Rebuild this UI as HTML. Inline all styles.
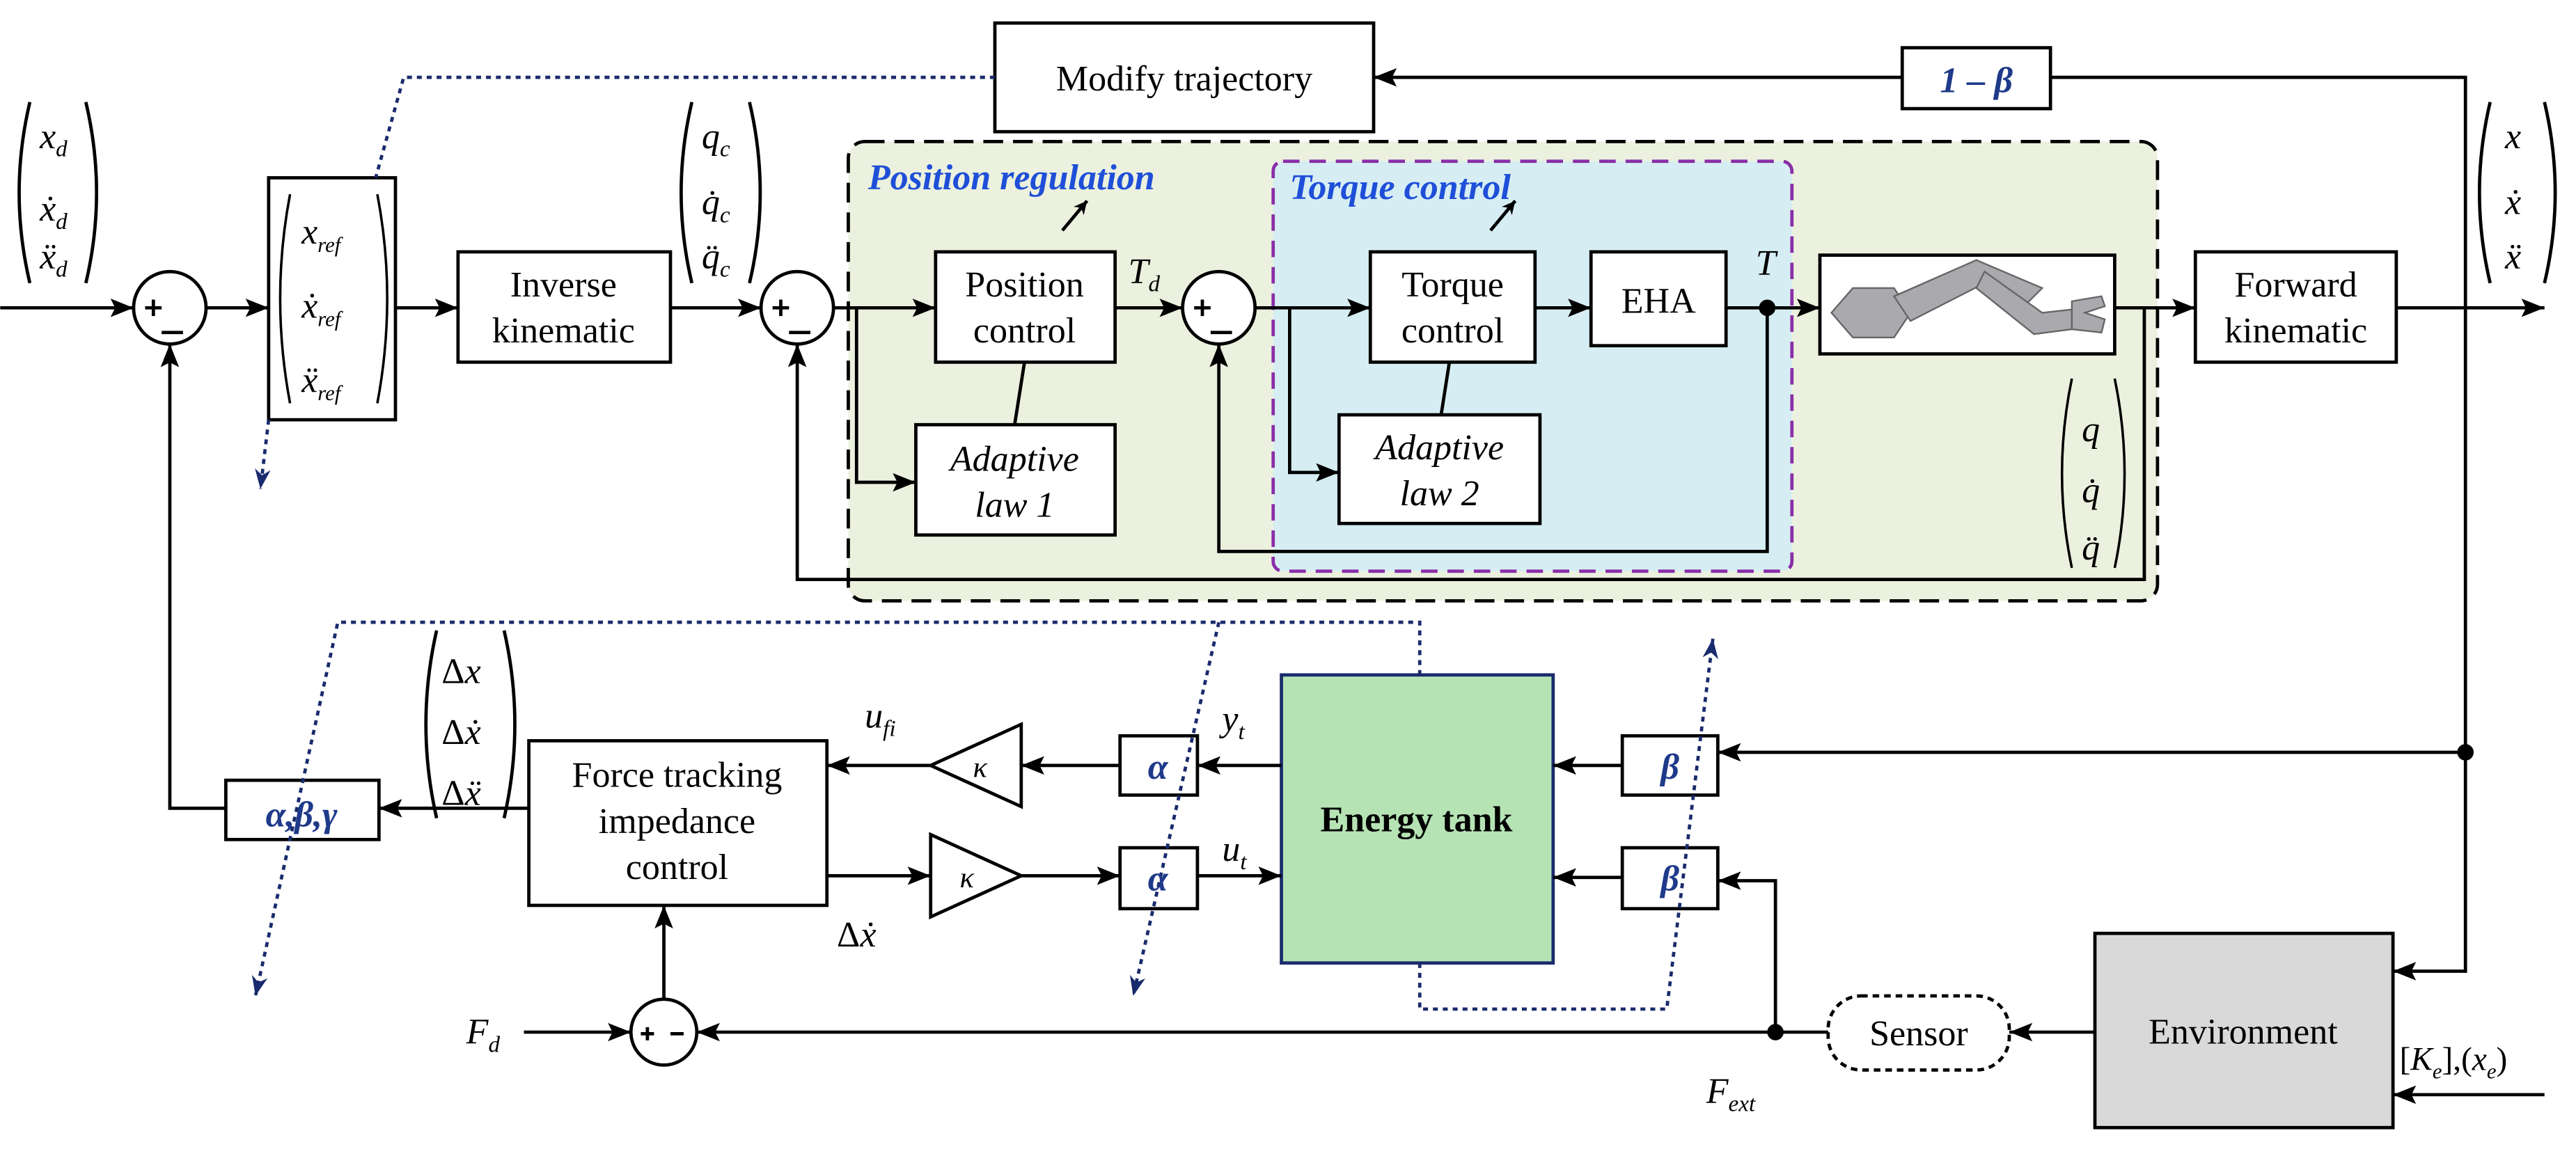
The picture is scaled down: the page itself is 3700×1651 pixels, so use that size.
<!DOCTYPE html>
<html><head><meta charset="utf-8"><style>
html,body{margin:0;padding:0;background:#fff}
svg{display:block}
text{font-family:"Liberation Serif",serif;fill:#000}
.i{font-style:italic}
.b{fill:#1f3a8a;font-weight:bold;font-style:italic}
</style></head><body>
<svg width="3700" height="1651" viewBox="0 0 1564 698" xmlns="http://www.w3.org/2000/svg">
<defs>
<marker id="a" viewBox="0 0 10 10" refX="10" refY="5" markerWidth="8" markerHeight="8" markerUnits="userSpaceOnUse" orient="auto"><path d="M0,0L10,5L0,10L3,5z" fill="#000"/></marker>
<marker id="a2" viewBox="0 0 10 10" refX="10" refY="5" markerWidth="14" markerHeight="14" markerUnits="userSpaceOnUse" orient="auto"><path d="M0,1L10,5L0,9L2,5z" fill="#000"/></marker>
<marker id="ab" viewBox="0 0 10 10" refX="10" refY="5" markerWidth="12" markerHeight="12" markerUnits="userSpaceOnUse" orient="auto"><path d="M0,1L10,5L0,9L3,5z" fill="#1a2b6d"/></marker>
</defs>
<g stroke="#000" stroke-width="2" fill="none">
<rect x="515" y="86" width="795" height="279" rx="10" fill="#ebf1de" stroke-dasharray="12,6"/>
<rect x="773" y="98" width="315" height="249" rx="6" fill="#d6eef3" stroke="#8a2ea8" stroke-dasharray="10,6"/>
<rect x="604" y="14" width="230" height="66" fill="#fff"/>
<rect x="1155" y="29" width="90" height="37" fill="#fff"/>
<rect x="163" y="108" width="77" height="147" fill="#fff"/>
<rect x="278" y="153" width="129" height="67" fill="#fff"/>
<rect x="568" y="153" width="109" height="67" fill="#fff"/>
<rect x="832" y="153" width="100" height="67" fill="#fff"/>
<rect x="966" y="153" width="82" height="57" fill="#fff"/>
<rect x="1105" y="155" width="179" height="60" fill="#fff"/>
<rect x="1333" y="153" width="122" height="67" fill="#fff"/>
<rect x="556" y="258" width="121" height="67" fill="#fff"/>
<rect x="813" y="252" width="122" height="66" fill="#fff"/>
<rect x="321" y="450" width="181" height="100" fill="#fff"/>
<rect x="137" y="474" width="93" height="36" fill="#fff"/>
<rect x="680" y="447" width="47" height="36" fill="#fff"/>
<rect x="680" y="515" width="47" height="37" fill="#fff"/>
<rect x="985" y="447" width="58" height="36" fill="#fff"/>
<rect x="985" y="515" width="58" height="37" fill="#fff"/>
<rect x="778" y="410" width="165" height="175" fill="#b6e3b4" stroke="#1a2b6d"/>
<rect x="1272" y="567" width="181" height="118" fill="#d9d9d9"/>
<rect x="1110" y="605" width="110" height="45" rx="20" fill="#fff" stroke-dasharray="4,3"/>
<path d="M620,440L620,490L565,465z" fill="#fff"/>
<path d="M565,507L565,557L620,532z" fill="#fff"/>
<circle cx="103" cy="187" r="22" fill="#fff"/>
<circle cx="484" cy="187" r="22" fill="#fff"/>
<circle cx="740" cy="187" r="22" fill="#fff"/>
<circle cx="403" cy="627" r="20" fill="#fff"/>
<path d="M0,187H81" marker-end="url(#a2)"/>
<path d="M125,187H163" marker-end="url(#a2)"/>
<path d="M240,187H278" marker-end="url(#a2)"/>
<path d="M407,187H462" marker-end="url(#a2)"/>
<path d="M506,187H568" marker-end="url(#a2)"/>
<path d="M677,187H718" marker-end="url(#a2)"/>
<path d="M762,187H832" marker-end="url(#a2)"/>
<path d="M932,187H966" marker-end="url(#a2)"/>
<path d="M1048,187H1105" marker-end="url(#a2)"/>
<path d="M1284,187H1333" marker-end="url(#a2)"/>
<path d="M1455,187H1545" marker-end="url(#a2)"/>
<path d="M520,187V293H556" marker-end="url(#a2)"/>
<path d="M783,187V287H813" marker-end="url(#a2)"/>
<path d="M1073,187V335H740V209" marker-end="url(#a2)"/>
<path d="M1302,187V352H484V209" marker-end="url(#a2)"/>
<path d="M616,258L622,220M875,252L880,220"/>
<path d="M645,140L660,122" marker-end="url(#a)"/>
<path d="M905,140L920,122" marker-end="url(#a)"/>
<path d="M1497,457V47H1245"/>
<path d="M1155,47H834" marker-end="url(#a2)"/>
<path d="M1497,457V590H1453" marker-end="url(#a2)"/>
<path d="M1497,457H1043" marker-end="url(#a2)"/>
<path d="M985,465H943" marker-end="url(#a2)"/>
<path d="M778,465H727" marker-end="url(#a2)"/>
<path d="M680,465H620" marker-end="url(#a2)"/>
<path d="M565,465H502" marker-end="url(#a2)"/>
<path d="M502,532H565" marker-end="url(#a2)"/>
<path d="M620,532H680" marker-end="url(#a2)"/>
<path d="M727,532H778" marker-end="url(#a2)"/>
<path d="M1078,627V535H1043" marker-end="url(#a2)"/>
<path d="M985,533H943" marker-end="url(#a2)"/>
<path d="M1545,665H1453" marker-end="url(#a2)"/>
<path d="M1272,627H1220" marker-end="url(#a2)"/>
<path d="M1110,627H423" marker-end="url(#a2)"/>
<path d="M318,627H383" marker-end="url(#a2)"/>
<path d="M403,607V550" marker-end="url(#a2)"/>
<path d="M321,491H230" marker-end="url(#a2)"/>
<path d="M137,491H103V209" marker-end="url(#a2)"/>
<path d="M18,62Q5,117 18,172M52,62Q65,117 52,172"/>
<path d="M176,118Q164,181 176,245M229,118Q241,181 229,245" stroke-width="1.5"/>
<path d="M420,62Q407,117 420,172M455,62Q468,117 455,172"/>
<path d="M1258,230Q1246,288 1258,345M1284,230Q1296,288 1284,345" stroke-width="1.5"/>
<path d="M1512,62Q1499,117 1512,172M1545,62Q1558,117 1545,172"/>
<path d="M265,383Q252,440 265,497M306,383Q319,440 306,497"/>
<!-- signs -->
<g stroke-width="2">
<path d="M88,187H98M93,182V192M98,202H111"/>
<path d="M469,187H479M474,182V192M479,202H492"/>
<path d="M725,187H735M730,182V192M735,202H748"/>
<path d="M389,628H397M393,624V632M407,628H415"/>
</g>
</g>
<g fill="#000">
<circle cx="1073" cy="187" r="5"/><circle cx="1497" cy="457" r="5"/><circle cx="1078" cy="627" r="5"/>
</g>
<g fill="#a9a9ae" stroke="#666" stroke-width="1">
<path d="M1112,190L1125,175L1150,175L1160,190L1150,205L1125,205z"/>
<path d="M1150,180L1200,158L1240,175L1230,185L1205,172L1160,195z"/>
<path d="M1205,165L1240,190L1258,188L1258,200L1235,203L1200,175z"/>
<path d="M1258,183L1276,180L1278,186L1266,190L1278,194L1276,202L1258,200z"/>
</g>
<g stroke="#1a2b6d" stroke-width="2" fill="none" stroke-dasharray="3,3">
<path d="M604,47H245L228,108M163,255L158,297" marker-end="url(#ab)"/>
<path d="M862,410V378H205L155,605" marker-end="url(#ab)"/>
<path d="M740,378L688,605" marker-end="url(#ab)"/>
<path d="M862,585V613H1012L1040,388" marker-end="url(#ab)"/>
</g>
<g font-size="22">
<text x="719" y="55" text-anchor="middle">Modify trajectory</text>
<text x="1200" y="56" text-anchor="middle" class="b">1 – β</text>
<text x="342" y="180" text-anchor="middle">Inverse</text>
<text x="342" y="208" text-anchor="middle">kinematic</text>
<text x="622" y="180" text-anchor="middle">Position</text>
<text x="622" y="208" text-anchor="middle">control</text>
<text x="882" y="180" text-anchor="middle">Torque</text>
<text x="882" y="208" text-anchor="middle">control</text>
<text x="1007" y="190" text-anchor="middle">EHA</text>
<text x="1394" y="180" text-anchor="middle">Forward</text>
<text x="1394" y="208" text-anchor="middle">kinematic</text>
<text x="616" y="286" text-anchor="middle" class="i">Adaptive</text>
<text x="616" y="314" text-anchor="middle" class="i">law  1</text>
<text x="874" y="279" text-anchor="middle" class="i">Adaptive</text>
<text x="874" y="307" text-anchor="middle" class="i">law  2</text>
<text x="411" y="478" text-anchor="middle">Force tracking</text>
<text x="411" y="506" text-anchor="middle">impedance</text>
<text x="411" y="534" text-anchor="middle">control</text>
<text x="1362" y="634" text-anchor="middle">Environment</text>
<text x="1165" y="635" text-anchor="middle">Sensor</text>
<text x="860" y="505" text-anchor="middle" font-weight="bold">Energy tank</text>
<text x="183" y="502" text-anchor="middle" class="b">α,β,γ</text>
<text x="703" y="473" text-anchor="middle" class="b">α</text>
<text x="703" y="541" text-anchor="middle" class="b">α</text>
<text x="1014" y="473" text-anchor="middle" class="b">β</text>
<text x="1014" y="541" text-anchor="middle" class="b">β</text>
<text x="595" y="472" text-anchor="middle" class="i" font-size="18">κ</text>
<text x="587" y="539" text-anchor="middle" class="i" font-size="18">κ</text>
<text x="527" y="115" font-weight="bold" font-style="italic" style="fill:#1f4fd8">Position regulation</text>
<text x="783" y="121" font-weight="bold" font-style="italic" style="fill:#1f4fd8">Torque control</text>
<g class="i">
<text x="24" y="90">x<tspan font-size="14" dy="5">d</tspan></text>
<text x="24" y="134">ẋ<tspan font-size="14" dy="5">d</tspan></text>
<text x="24" y="163">ẍ<tspan font-size="14" dy="5">d</tspan></text>
<text x="183" y="148">x<tspan font-size="13" dy="5">ref</tspan></text>
<text x="183" y="193">ẋ<tspan font-size="13" dy="5">ref</tspan></text>
<text x="183" y="238">ẍ<tspan font-size="13" dy="5">ref</tspan></text>
<text x="426" y="90">q<tspan font-size="14" dy="5">c</tspan></text>
<text x="426" y="130">q̇<tspan font-size="14" dy="5">c</tspan></text>
<text x="426" y="163">q̈<tspan font-size="14" dy="5">c</tspan></text>
<text x="1264" y="268">q</text><text x="1264" y="305">q̇</text><text x="1264" y="340">q̈</text>
<text x="1521" y="90">x</text><text x="1521" y="130">ẋ</text><text x="1521" y="163">ẍ</text>
<text x="268" y="415"><tspan font-style="normal">Δ</tspan>x</text><text x="268" y="452"><tspan font-style="normal">Δ</tspan>ẋ</text><text x="268" y="489"><tspan font-style="normal">Δ</tspan>ẍ</text>
<text x="685" y="172">T<tspan font-size="14" dy="5">d</tspan></text>
<text x="1066" y="167">T</text>
<text x="525" y="442">u<tspan font-size="14" dy="5">fi</tspan></text>
<text x="508" y="575"><tspan font-style="normal">Δ</tspan>ẋ</text>
<text x="742" y="444">y<tspan font-size="14" dy="5">t</tspan></text>
<text x="742" y="523">u<tspan font-size="14" dy="5">t</tspan></text>
<text x="283" y="634">F<tspan font-size="14" dy="5">d</tspan></text>
<text x="1036" y="670">F<tspan font-size="14" dy="5">ext</tspan></text>
<text x="1457" y="650" font-size="20"><tspan font-style="normal">[</tspan>K<tspan font-size="13" dy="5">e</tspan><tspan dy="-5" font-style="normal">],(</tspan>x<tspan font-size="13" dy="5">e</tspan><tspan dy="-5" font-style="normal">)</tspan></text>
</g>
</g>
</svg>
</body></html>
